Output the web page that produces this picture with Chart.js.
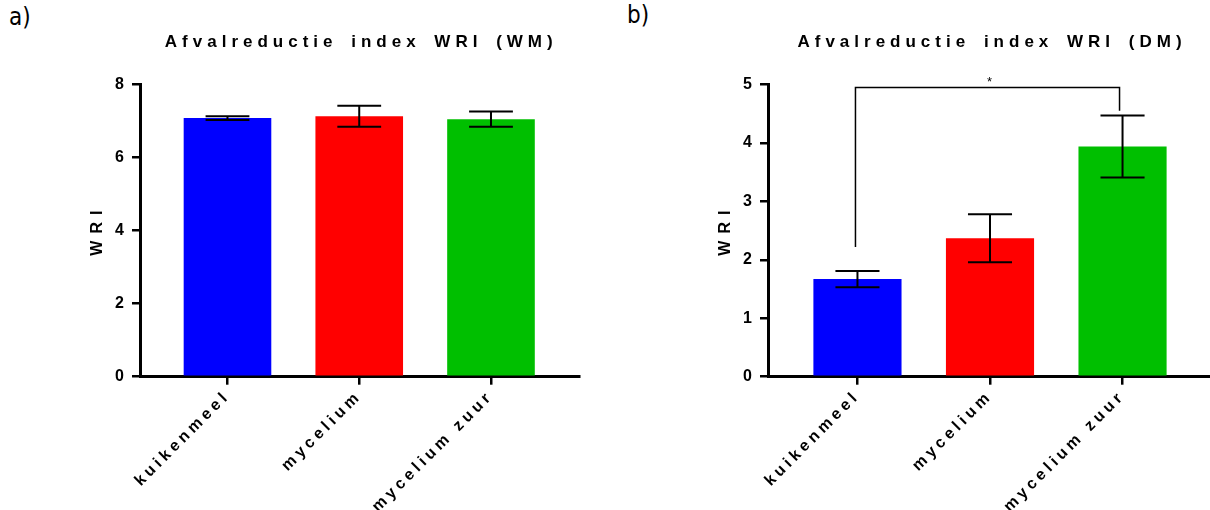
<!DOCTYPE html>
<html>
<head>
<meta charset="utf-8">
<script src="https://cdn.jsdelivr.net/npm/chart.js@4.4.0/dist/chart.umd.min.js"></script>
<style>
  html, body { margin: 0; padding: 0; background: #fff; overflow: hidden; }
  body { width: 1210px; height: 510px; position: relative; }
  canvas { position: absolute; top: 0; }
  #wmChart { left: 0; }
  #dmChart { left: 605px; }
  .letter { position: absolute; font-family: 'Liberation Sans Narrow', 'DejaVu Sans Condensed', 'Liberation Sans', sans-serif; font-size: 24px; color: #000; }
</style>
</head>
<body>
<div class="letter" style="left:9px; top:3px">a)</div>
<div class="letter" style="left:627px; top:1px">b)</div>
<canvas id="wmChart" width="605" height="510"></canvas>
<canvas id="dmChart" width="625" height="510"></canvas>
<script>
// Data
const categories = ['kuikenmeel', 'mycelium', 'mycelium zuur'];
const barColors = ['#0000ff', '#ff0000', '#00bf00'];

const wmMeans = [7.08, 7.13, 7.05];
const wmErrors = [0.05, 0.29, 0.21];
const wmTicks = [0, 2, 4, 6, 8];

const dmMeans = [1.67, 2.37, 3.94];
const dmErrors = [0.14, 0.41, 0.53];
const dmTicks = [0, 1, 2, 3, 4, 5];

// significance bracket (DM): from bar, to bar, top, left foot, right foot
const dmBracket = [0, 2, 4.95, 2.22, 4.55];
const dmBracketLabel = '*';

const yTitle = 'WRI';
const FONT = "'Liberation Sans', Arial, sans-serif";

// GraphPad style spaced lettering
const spacingPlugin = {
    id: 'spacing',
    beforeUpdate(chart) { chart.ctx.letterSpacing = '4px'; },
    beforeDraw(chart) { chart.ctx.letterSpacing = '4px'; }
};

const errorBarPlugin = {
    id: 'errorBars',
    afterDatasetsDraw(chart, args, opts) {
        const { ctx } = chart;
        const x = chart.scales.x, y = chart.scales.y;
        const meta = chart.getDatasetMeta(0);
        ctx.save();
        ctx.strokeStyle = '#000';
        ctx.lineWidth = 2;
        opts.errors.forEach((err, i) => {
            const cx = x.getPixelForValue(i);
            const half = meta.data[i].width / 4;
            const hi = y.getPixelForValue(opts.means[i] + err);
            const lo = y.getPixelForValue(opts.means[i] - err);
            ctx.beginPath();
            ctx.moveTo(cx, hi); ctx.lineTo(cx, lo);
            ctx.moveTo(cx - half, hi); ctx.lineTo(cx + half, hi);
            ctx.moveTo(cx - half, lo); ctx.lineTo(cx + half, lo);
            ctx.stroke();
        });
        ctx.restore();
    }
};

// chart title over the middle bar + spaced y axis title
const panelTitlePlugin = {
    id: 'panelTitle',
    afterDraw(chart, args, opts) {
        const { ctx, chartArea } = chart;
        ctx.save();
        ctx.font = 'bold 17px ' + FONT;
        ctx.letterSpacing = '5px';
        ctx.wordSpacing = '4px';
        ctx.fillStyle = '#000';
        ctx.textAlign = 'center';
        ctx.textBaseline = 'middle';
        ctx.fillText(opts.text, chart.scales.x.getPixelForValue(1) + 2, 42);

        ctx.font = 'bold 16px ' + FONT;
        ctx.letterSpacing = '7px';
        ctx.translate(chartArea.left - 42, (chartArea.top + chartArea.bottom) / 2 - 1);
        ctx.rotate(-Math.PI / 2);
        ctx.fillText(yTitle, 0, 0);
        ctx.restore();
    }
};

const bracketPlugin = {
    id: 'bracket',
    afterDraw(chart, args, opts) {
        if (!opts.values) return;
        const [from, to, top, leftFoot, rightFoot] = opts.values;
        const { ctx } = chart;
        const x = chart.scales.x, y = chart.scales.y;
        const x1 = x.getPixelForValue(from) - 2, x2 = x.getPixelForValue(to) - 3;
        const yt = y.getPixelForValue(top);
        ctx.save();
        ctx.strokeStyle = '#000';
        ctx.lineWidth = 1.5;
        ctx.beginPath();
        ctx.moveTo(x1, y.getPixelForValue(leftFoot));
        ctx.lineTo(x1, yt);
        ctx.lineTo(x2, yt);
        ctx.lineTo(x2, y.getPixelForValue(rightFoot));
        ctx.stroke();
        ctx.font = '13px ' + FONT;
        ctx.letterSpacing = '0px';
        ctx.fillStyle = '#000';
        ctx.textAlign = 'center';
        ctx.textBaseline = 'bottom';
        ctx.fillText(opts.label, (x1 + x2) / 2 + 2, yt + 1);
        ctx.restore();
    }
};

function makeChart(id, title, means, errors, ticks, xMin, xMax, padding, bracket) {
    const ctx = document.getElementById(id).getContext('2d');
    return new Chart(ctx, {
        type: 'bar',
        data: {
            datasets: [{
                data: means.map((v, i) => ({ x: i, y: v })),
                backgroundColor: barColors,
                borderWidth: 0,
                categoryPercentage: 1,
                barPercentage: 0.665
            }]
        },
        plugins: [spacingPlugin, errorBarPlugin, panelTitlePlugin, bracketPlugin],
        options: {
            responsive: false,
            animation: false,
            layout: { padding: padding },
            plugins: {
                legend: { display: false },
                tooltip: { enabled: false },
                errorBars: { means: means, errors: errors },
                panelTitle: { text: title },
                bracket: bracket || {}
            },
            scales: {
                x: {
                    type: 'linear',
                    min: xMin,
                    max: xMax,
                    offset: false,
                    z: 1,
                    afterBuildTicks: s => { s.ticks = categories.map((c, i) => ({ value: i })); },
                    afterFit: s => { s.height = 133.3; s.paddingLeft = 0; s.paddingRight = 0; },
                    grid: { offset: false, drawOnChartArea: false, color: '#000', lineWidth: 2.5, tickLength: 8 },
                    border: { display: true, color: '#000', width: 3 },
                    ticks: {
                        autoSkip: false,
                        minRotation: 45,
                        maxRotation: 45,
                        padding: 2,
                        color: '#000',
                        font: { family: FONT, size: 16, weight: 'bold' },
                        callback: v => categories[v]
                    }
                },
                y: {
                    min: ticks[0],
                    max: ticks[ticks.length - 1],
                    afterBuildTicks: s => { s.ticks = ticks.map(v => ({ value: v })); },
                    afterFit: s => { s.width = 55; },
                    grid: { drawOnChartArea: false, color: '#000', lineWidth: 2.5, tickLength: 8 },
                    border: { display: true, color: '#000', width: 3 },
                    ticks: {
                        padding: 4,
                        color: '#000',
                        font: { family: FONT, size: 16, weight: 'bold' }
                    }
                }
            }
        }
    });
}

makeChart('wmChart', 'Afvalreductie index WRI (WM)', wmMeans, wmErrors, wmTicks,
    -0.664, 2.668, { left: 85, right: 26, top: 84.5, bottom: 0 });

makeChart('dmChart', 'Afvalreductie index WRI (DM)', dmMeans, dmErrors, dmTicks,
    -0.675, 2.675, { left: 108, right: 18, top: 84.5, bottom: 0 },
    { values: dmBracket, label: dmBracketLabel });
</script>
</body>
</html>
